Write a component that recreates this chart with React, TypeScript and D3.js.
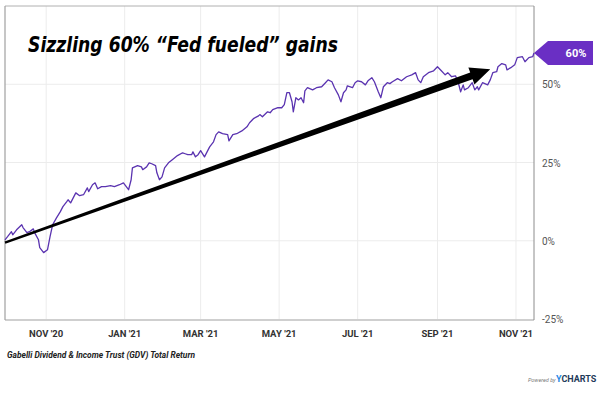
import React from 'react';
import * as d3 from 'd3';

const dates: string[] = [
  '2020-09-30','2020-10-02','2020-10-05','2020-10-06','2020-10-09','2020-10-13','2020-10-14','2020-10-17','2020-10-19','2020-10-22',
  '2020-10-23','2020-10-26','2020-10-27','2020-10-30','2020-11-02','2020-11-04','2020-11-06','2020-11-09','2020-11-12','2020-11-14',
  '2020-11-17','2020-11-18','2020-11-20','2020-11-22','2020-11-24','2020-11-27','2020-11-30','2020-12-03','2020-12-04','2020-12-07',
  '2020-12-09','2020-12-11','2020-12-14','2020-12-17','2020-12-21','2020-12-24','2020-12-28','2020-12-31','2021-01-04','2021-01-06',
  '2021-01-07','2021-01-11','2021-01-14','2021-01-15','2021-01-18','2021-01-20','2021-01-22','2021-01-25','2021-01-26','2021-01-28',
  '2021-01-30','2021-02-01','2021-02-04','2021-02-07','2021-02-11','2021-02-15','2021-02-17','2021-02-19','2021-02-22','2021-02-23',
  '2021-02-25','2021-02-27','2021-03-01','2021-03-04','2021-03-06','2021-03-08','2021-03-11','2021-03-13','2021-03-15','2021-03-18',
  '2021-03-22','2021-03-23','2021-03-26','2021-03-29','2021-04-02','2021-04-06','2021-04-08','2021-04-11','2021-04-15','2021-04-16',
  '2021-04-18','2021-04-22','2021-04-24','2021-04-26','2021-04-30','2021-05-03','2021-05-05','2021-05-07','2021-05-09','2021-05-11',
  '2021-05-12','2021-05-14','2021-05-16','2021-05-18','2021-05-20','2021-05-21','2021-05-23','2021-05-27','2021-05-30','2021-06-03',
  '2021-06-06','2021-06-08','2021-06-11','2021-06-13','2021-06-16','2021-06-18','2021-06-20','2021-06-22','2021-06-23','2021-06-27',
  '2021-06-29','2021-07-01','2021-07-04','2021-07-07','2021-07-09','2021-07-12','2021-07-14','2021-07-17','2021-07-19','2021-07-21',
  '2021-07-24','2021-07-26','2021-07-28','2021-08-01','2021-08-04','2021-08-08','2021-08-12','2021-08-15','2021-08-17','2021-08-19',
  '2021-08-21','2021-08-25','2021-08-29','2021-09-01','2021-09-04','2021-09-07','2021-09-09','2021-09-12','2021-09-15','2021-09-17',
  '2021-09-19','2021-09-21','2021-09-22','2021-09-25','2021-09-28','2021-09-30','2021-10-02','2021-10-03','2021-10-06','2021-10-10',
  '2021-10-12','2021-10-14','2021-10-17','2021-10-18','2021-10-21','2021-10-24','2021-10-25','2021-10-28','2021-10-31','2021-11-02',
  '2021-11-06','2021-11-08','2021-11-11','2021-11-14','2021-11-15'
];

const values: number[] = [
  0.3, 1.3, 2.9, 1.9, 3.5, 5.1, 4.2, 2.6, 2.9, 3.8,
  2.6, 0.3, -2.2, -3.8, -2.9, 1.3, 5.1, 7.3, 9.3, 10.9,
  12.5, 13.1, 12.1, 13.7, 15.3, 14.4, 14.7, 16.9, 15.7, 17.9,
  18.5, 16.6, 17.3, 17.3, 17.6, 17.3, 17.9, 18.5, 16.3, 19.5,
  23.3, 24.0, 23.6, 22.7, 23.6, 24.9, 24.6, 24.0, 21.7, 19.5,
  20.4, 23.3, 24.9, 25.9, 27.2, 28.1, 27.8, 27.5, 27.5, 28.4,
  26.8, 27.5, 28.8, 26.8, 28.4, 30.0, 31.6, 33.9, 34.8, 34.2,
  33.9, 31.9, 33.9, 34.2, 35.1, 36.4, 37.7, 39.0, 39.9, 40.3,
  39.6, 41.2, 40.9, 41.9, 42.5, 42.5, 43.5, 47.3, 47.3, 44.4,
  41.2, 45.7, 45.0, 45.7, 44.1, 47.9, 48.9, 48.2, 48.9, 49.2,
  50.5, 51.4, 50.8, 48.9, 46.6, 44.4, 47.3, 48.2, 49.5, 48.9,
  50.5, 51.1, 50.8, 49.8, 51.1, 52.1, 50.8, 47.6, 45.7, 49.2,
  50.5, 50.2, 50.8, 51.8, 51.1, 52.4, 53.0, 53.7, 51.4, 50.5,
  52.4, 53.7, 54.3, 55.6, 54.3, 53.0, 53.7, 52.4, 52.7, 50.8,
  47.6, 49.8, 48.2, 48.9, 50.5, 48.2, 49.2, 48.2, 50.5, 49.8,
  51.4, 53.7, 54.0, 55.6, 56.6, 56.2, 54.6, 55.3, 56.2, 58.5,
  58.8, 57.2, 58.5, 58.8, 60.0
];

const xTickDates: string[] = ['2020-11-01', '2021-01-01', '2021-03-01', '2021-05-01', '2021-07-01', '2021-09-01', '2021-11-01'];
const xTickLabels: string[] = ["NOV '20", "JAN '21", "MAR '21", "MAY '21", "JUL '21", "SEP '21", "NOV '21"];
const yTicks: number[] = [-25, 0, 25, 50];
const yTickLabels: string[] = ['-25%', '0%', '25%', '50%'];
const xDomain: string[] = ['2020-09-30', '2021-11-15'];
const yDomain: number[] = [-25, 75];

const titleText = 'Sizzling 60% \u201CFed fueled\u201D gains';
const captionText = 'Gabelli Dividend & Income Trust (GDV) Total Return';
const lastLabel = '60%';
const arrowStart = { date: '2020-09-30', value: -0.6 };
const arrowEnd = { date: '2021-10-12', value: 54.8 };

const parse = d3.utcParse('%Y-%m-%d');

export default function App() {
  const W = 600, H = 393;
  const L = 5, R = 534, T = 6, B = 319;
  const x = d3.scaleUtc().domain(xDomain.map((d) => parse(d) as Date)).range([L, R]);
  const y = d3.scaleLinear().domain(yDomain).range([B, T]);

  const pts: [number, number][] = dates.map((d, i) => [x(parse(d) as Date), y(values[i])]);
  const line = d3.line<[number, number]>().x((p) => p[0]).y((p) => p[1]);

  // arrow annotation
  const ax0 = x(parse(arrowStart.date) as Date), ay0 = y(arrowStart.value);
  const ax1 = x(parse(arrowEnd.date) as Date), ay1 = y(arrowEnd.value);
  const dx = ax1 - ax0, dy = ay1 - ay0;
  const len = Math.hypot(dx, dy);
  const ux = dx / len, uy = dy / len;
  const nx = -uy, ny = ux;
  const headLen = 20, headHalf = 9, w0 = 1.1, w1 = 3.6;
  const bx = ax1 - ux * headLen, by = ay1 - uy * headLen;
  const arrowPts: [number, number][] = [
    [ax0 + nx * w0, ay0 + ny * w0],
    [bx + nx * w1, by + ny * w1],
    [bx + nx * headHalf, by + ny * headHalf],
    [ax1, ay1],
    [bx - nx * headHalf, by - ny * headHalf],
    [bx - nx * w1, by - ny * w1],
    [ax0 - nx * w0, ay0 - ny * w0],
  ];

  const lastX = x(parse(dates[dates.length - 1]) as Date);
  const lastY = y(values[values.length - 1]);
  const tag: [number, number][] = [
    [lastX, lastY], [lastX + 14, lastY - 12], [lastX + 59, lastY - 12], [lastX + 59, lastY + 12], [lastX + 14, lastY + 12],
  ];

  return (
    <svg width={W} height={H} style={{ position: 'absolute', left: 0, top: 0, background: '#fff' }}>
      <rect x={0} y={0} width={W} height={H} fill="#fff" />
      {/* grid */}
      {xTickDates.map((d, i) => (
        <line key={'gx' + i} x1={x(parse(d) as Date)} x2={x(parse(d) as Date)} y1={T} y2={B} stroke="#ececec" strokeWidth={1} />
      ))}
      {yTicks.filter((t) => t > yDomain[0]).map((t, i) => (
        <line key={'gy' + i} x1={L} x2={R} y1={y(t)} y2={y(t)} stroke="#ececec" strokeWidth={1} />
      ))}
      {/* frame */}
      <line x1={L} x2={R} y1={T} y2={T} stroke="#b0b0b0" strokeWidth={1} />
      <line x1={L} x2={L} y1={T} y2={B + 1} stroke="#a0a0a0" strokeWidth={1.2} />
      <line x1={L} x2={R} y1={B + 1} y2={B + 1} stroke="#a0a0a0" strokeWidth={1.2} />
      <line x1={R} x2={R} y1={T} y2={B + 1} stroke="#8c8c8c" strokeWidth={1} />

      {/* data line */}
      <path d={line(pts) || ''} fill="none" stroke="#5a33b0" strokeWidth={1.3} strokeLinejoin="round" />

      {/* arrow */}
      <polygon points={arrowPts.map((p) => p.join(',')).join(' ')} fill="#000" />

      {/* last value tag */}
      <polygon points={tag.map((p) => p.join(',')).join(' ')} fill="#6a2fc4" />
      <text x={lastX + 42} y={lastY + 4} textAnchor="middle" fill="#fff" fontFamily="Roboto, sans-serif" fontWeight={700} fontSize={11}>{lastLabel}</text>

      {/* y labels */}
      {yTicks.map((t, i) => (
        <text key={'yl' + i} x={R + 8} y={y(t) + 4} fill="#555" fontFamily="Roboto, sans-serif" fontSize={10}>{yTickLabels[i]}</text>
      ))}
      {/* x labels */}
      {xTickDates.map((d, i) => (
        <text key={'xl' + i} x={x(parse(d) as Date)} y={337} textAnchor="middle" fill="#333" fontFamily="Roboto, sans-serif" fontWeight={700} fontSize={9.5}>{xTickLabels[i]}</text>
      ))}

      {/* title */}
      <text x={28} y={52} fontFamily="'Comic Sans MS', 'DejaVu Sans', sans-serif" fontStyle="italic" fontWeight={700} fontSize={21} fill="#000" textLength={310} lengthAdjust="spacingAndGlyphs">{titleText}</text>

      {/* caption */}
      <text x={7} y={358} fontFamily="Roboto, sans-serif" fontStyle="italic" fontWeight={700} fontSize={9} fill="#222" textLength={188} lengthAdjust="spacingAndGlyphs">{captionText}</text>

      {/* powered by */}
      <text x={528} y={382} fontFamily="Roboto, sans-serif" fontStyle="italic" fontSize={5.5} fill="#777">Powered by</text>
      <text x={556} y={382} fontFamily="Roboto, sans-serif" fontWeight={700} fontSize={9} fill="#1f3b5a">
        <tspan fill="#1e88e5">Y</tspan>CHARTS
      </text>
    </svg>
  );
}
